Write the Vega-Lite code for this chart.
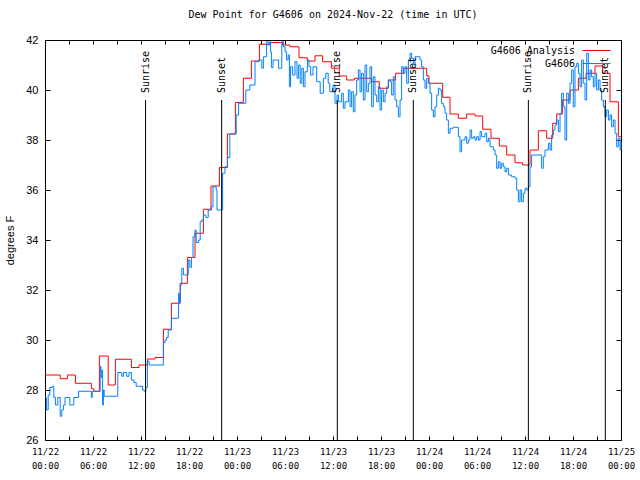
{
  "$schema": "https://vega.github.io/schema/vega-lite/v6.json",
  "width": 576,
  "height": 400,
  "autosize": {"type": "none"},
  "padding": {"left": 45, "top": 40, "right": 19, "bottom": 40},
  "background": "white",
  "title": {"text": "Dew Point for G4606 on 2024-Nov-22 (time in UTC)", "font": "DejaVu Sans Mono", "fontSize": 10, "fontWeight": "normal", "color": "black", "offset": 14, "anchor": "middle"},
  "config": {
    "view": {"stroke": null},
    "axis": {"grid": false, "domainColor": "black", "domainWidth": 1, "tickColor": "black", "tickWidth": 1, "labelColor": "black", "titleColor": "black"}
  },
  "datasets": {
    "dew": [
      {"series": "G4606 Analysis", "hour": 0, "dewpoint": 28.6},
      {"series": "G4606 Analysis", "hour": 1.9, "dewpoint": 28.45},
      {"series": "G4606 Analysis", "hour": 2.8, "dewpoint": 28.6},
      {"series": "G4606 Analysis", "hour": 3.8, "dewpoint": 28.27},
      {"series": "G4606 Analysis", "hour": 5.8, "dewpoint": 28.05},
      {"series": "G4606 Analysis", "hour": 6.1, "dewpoint": 27.95},
      {"series": "G4606 Analysis", "hour": 6.8, "dewpoint": 29.36},
      {"series": "G4606 Analysis", "hour": 7.9, "dewpoint": 28.2},
      {"series": "G4606 Analysis", "hour": 8.8, "dewpoint": 29.23},
      {"series": "G4606 Analysis", "hour": 10.8, "dewpoint": 28.9},
      {"series": "G4606 Analysis", "hour": 11.75, "dewpoint": 29.0},
      {"series": "G4606 Analysis", "hour": 12.8, "dewpoint": 29.24},
      {"series": "G4606 Analysis", "hour": 13.75, "dewpoint": 29.3},
      {"series": "G4606 Analysis", "hour": 14.8, "dewpoint": 30.43},
      {"series": "G4606 Analysis", "hour": 15.8, "dewpoint": 31.47},
      {"series": "G4606 Analysis", "hour": 16.9, "dewpoint": 32.27},
      {"series": "G4606 Analysis", "hour": 17.8, "dewpoint": 33.3},
      {"series": "G4606 Analysis", "hour": 18.75, "dewpoint": 34.27},
      {"series": "G4606 Analysis", "hour": 19.8, "dewpoint": 35.23},
      {"series": "G4606 Analysis", "hour": 20.75, "dewpoint": 36.16},
      {"series": "G4606 Analysis", "hour": 21.8, "dewpoint": 36.9},
      {"series": "G4606 Analysis", "hour": 22.8, "dewpoint": 38.24},
      {"series": "G4606 Analysis", "hour": 23.8, "dewpoint": 39.5},
      {"series": "G4606 Analysis", "hour": 24.8, "dewpoint": 40.47},
      {"series": "G4606 Analysis", "hour": 25.8, "dewpoint": 41.16},
      {"series": "G4606 Analysis", "hour": 26.8, "dewpoint": 41.83},
      {"series": "G4606 Analysis", "hour": 28.1, "dewpoint": 41.9},
      {"series": "G4606 Analysis", "hour": 29.7, "dewpoint": 41.8},
      {"series": "G4606 Analysis", "hour": 30.6, "dewpoint": 41.73},
      {"series": "G4606 Analysis", "hour": 31.75, "dewpoint": 41.29},
      {"series": "G4606 Analysis", "hour": 32.8, "dewpoint": 41.16},
      {"series": "G4606 Analysis", "hour": 33.75, "dewpoint": 41.37},
      {"series": "G4606 Analysis", "hour": 34.7, "dewpoint": 41.13},
      {"series": "G4606 Analysis", "hour": 35.8, "dewpoint": 40.87},
      {"series": "G4606 Analysis", "hour": 36.79, "dewpoint": 40.56},
      {"series": "G4606 Analysis", "hour": 37.71, "dewpoint": 40.4},
      {"series": "G4606 Analysis", "hour": 38.67, "dewpoint": 40.47},
      {"series": "G4606 Analysis", "hour": 40.83, "dewpoint": 40.33},
      {"series": "G4606 Analysis", "hour": 41.79, "dewpoint": 40.07},
      {"series": "G4606 Analysis", "hour": 42.92, "dewpoint": 40.4},
      {"series": "G4606 Analysis", "hour": 43.83, "dewpoint": 40.67},
      {"series": "G4606 Analysis", "hour": 44.79, "dewpoint": 40.87},
      {"series": "G4606 Analysis", "hour": 47.71, "dewpoint": 40.56},
      {"series": "G4606 Analysis", "hour": 48.0, "dewpoint": 40.27},
      {"series": "G4606 Analysis", "hour": 49.71, "dewpoint": 39.71},
      {"series": "G4606 Analysis", "hour": 50.63, "dewpoint": 39.04},
      {"series": "G4606 Analysis", "hour": 51.67, "dewpoint": 38.87},
      {"series": "G4606 Analysis", "hour": 52.71, "dewpoint": 39.04},
      {"series": "G4606 Analysis", "hour": 53.75, "dewpoint": 38.96},
      {"series": "G4606 Analysis", "hour": 54.71, "dewpoint": 38.43},
      {"series": "G4606 Analysis", "hour": 55.75, "dewpoint": 38.07},
      {"series": "G4606 Analysis", "hour": 56.79, "dewpoint": 37.76},
      {"series": "G4606 Analysis", "hour": 57.71, "dewpoint": 37.4},
      {"series": "G4606 Analysis", "hour": 58.75, "dewpoint": 37.09},
      {"series": "G4606 Analysis", "hour": 59.71, "dewpoint": 37.0},
      {"series": "G4606 Analysis", "hour": 60.63, "dewpoint": 37.6},
      {"series": "G4606 Analysis", "hour": 61.67, "dewpoint": 38.37},
      {"series": "G4606 Analysis", "hour": 62.71, "dewpoint": 38.07},
      {"series": "G4606 Analysis", "hour": 63.46, "dewpoint": 38.67},
      {"series": "G4606 Analysis", "hour": 63.96, "dewpoint": 39.04},
      {"series": "G4606 Analysis", "hour": 64.67, "dewpoint": 39.6},
      {"series": "G4606 Analysis", "hour": 65.63, "dewpoint": 40.0},
      {"series": "G4606 Analysis", "hour": 66.67, "dewpoint": 40.47},
      {"series": "G4606 Analysis", "hour": 67.63, "dewpoint": 40.67},
      {"series": "G4606 Analysis", "hour": 68.75, "dewpoint": 40.96},
      {"series": "G4606 Analysis", "hour": 69.71, "dewpoint": 40.67},
      {"series": "G4606 Analysis", "hour": 70.63, "dewpoint": 39.53},
      {"series": "G4606 Analysis", "hour": 71.67, "dewpoint": 38.13},
      {"series": "G4606 Analysis", "hour": 72, "dewpoint": 38.13},
      {"series": "G4606", "hour": 0.0, "dewpoint": 27.7},
      {"series": "G4606", "hour": 0.2, "dewpoint": 27.2},
      {"series": "G4606", "hour": 0.4, "dewpoint": 27.8},
      {"series": "G4606", "hour": 0.6, "dewpoint": 28.1},
      {"series": "G4606", "hour": 0.9, "dewpoint": 28.15},
      {"series": "G4606", "hour": 1.1, "dewpoint": 27.7},
      {"series": "G4606", "hour": 1.3, "dewpoint": 27.4},
      {"series": "G4606", "hour": 1.6, "dewpoint": 27.7},
      {"series": "G4606", "hour": 1.9, "dewpoint": 26.95},
      {"series": "G4606", "hour": 2.1, "dewpoint": 27.2},
      {"series": "G4606", "hour": 2.3, "dewpoint": 27.4},
      {"series": "G4606", "hour": 2.5, "dewpoint": 27.7},
      {"series": "G4606", "hour": 3.1, "dewpoint": 27.4},
      {"series": "G4606", "hour": 3.6, "dewpoint": 27.7},
      {"series": "G4606", "hour": 4.2, "dewpoint": 27.95},
      {"series": "G4606", "hour": 5.6, "dewpoint": 27.95},
      {"series": "G4606", "hour": 5.8, "dewpoint": 27.7},
      {"series": "G4606", "hour": 5.9, "dewpoint": 27.95},
      {"series": "G4606", "hour": 6.7, "dewpoint": 27.95},
      {"series": "G4606", "hour": 6.9, "dewpoint": 28.95},
      {"series": "G4606", "hour": 7.0, "dewpoint": 28.5},
      {"series": "G4606", "hour": 7.1, "dewpoint": 28.8},
      {"series": "G4606", "hour": 7.2, "dewpoint": 27.4},
      {"series": "G4606", "hour": 7.3, "dewpoint": 28.0},
      {"series": "G4606", "hour": 7.4, "dewpoint": 27.75},
      {"series": "G4606", "hour": 8.9, "dewpoint": 27.75},
      {"series": "G4606", "hour": 9.1, "dewpoint": 28.7},
      {"series": "G4606", "hour": 9.6, "dewpoint": 28.55},
      {"series": "G4606", "hour": 9.8, "dewpoint": 28.7},
      {"series": "G4606", "hour": 10.2, "dewpoint": 28.55},
      {"series": "G4606", "hour": 10.5, "dewpoint": 28.7},
      {"series": "G4606", "hour": 10.8, "dewpoint": 28.4},
      {"series": "G4606", "hour": 11.1, "dewpoint": 28.3},
      {"series": "G4606", "hour": 11.4, "dewpoint": 28.15},
      {"series": "G4606", "hour": 12.2, "dewpoint": 28.0},
      {"series": "G4606", "hour": 12.4, "dewpoint": 27.95},
      {"series": "G4606", "hour": 12.6, "dewpoint": 28.1},
      {"series": "G4606", "hour": 12.8, "dewpoint": 29.15},
      {"series": "G4606", "hour": 13.0, "dewpoint": 29.0},
      {"series": "G4606", "hour": 14.8, "dewpoint": 29.9},
      {"series": "G4606", "hour": 15.0, "dewpoint": 30.0},
      {"series": "G4606", "hour": 15.2, "dewpoint": 30.1},
      {"series": "G4606", "hour": 15.4, "dewpoint": 30.4},
      {"series": "G4606", "hour": 15.8, "dewpoint": 30.87},
      {"series": "G4606", "hour": 16.7, "dewpoint": 31.87},
      {"series": "G4606", "hour": 16.8, "dewpoint": 31.5},
      {"series": "G4606", "hour": 16.9, "dewpoint": 32.2},
      {"series": "G4606", "hour": 17.1, "dewpoint": 32.87},
      {"series": "G4606", "hour": 17.3, "dewpoint": 32.6},
      {"series": "G4606", "hour": 17.9, "dewpoint": 33.2},
      {"series": "G4606", "hour": 18.1, "dewpoint": 32.9},
      {"series": "G4606", "hour": 18.3, "dewpoint": 33.3},
      {"series": "G4606", "hour": 18.5, "dewpoint": 34.13},
      {"series": "G4606", "hour": 18.75, "dewpoint": 34.4},
      {"series": "G4606", "hour": 18.9, "dewpoint": 33.9},
      {"series": "G4606", "hour": 19.2, "dewpoint": 34.0},
      {"series": "G4606", "hour": 19.4, "dewpoint": 34.73},
      {"series": "G4606", "hour": 19.6, "dewpoint": 34.8},
      {"series": "G4606", "hour": 19.8, "dewpoint": 35.0},
      {"series": "G4606", "hour": 20.1, "dewpoint": 34.9},
      {"series": "G4606", "hour": 20.4, "dewpoint": 35.2},
      {"series": "G4606", "hour": 20.8, "dewpoint": 35.33},
      {"series": "G4606", "hour": 21.0, "dewpoint": 36.13},
      {"series": "G4606", "hour": 21.4, "dewpoint": 36.0},
      {"series": "G4606", "hour": 21.5, "dewpoint": 35.2},
      {"series": "G4606", "hour": 22.1, "dewpoint": 35.2},
      {"series": "G4606", "hour": 22.2, "dewpoint": 36.67},
      {"series": "G4606", "hour": 22.5, "dewpoint": 36.93},
      {"series": "G4606", "hour": 22.8, "dewpoint": 37.3},
      {"series": "G4606", "hour": 23.1, "dewpoint": 38.24},
      {"series": "G4606", "hour": 23.9, "dewpoint": 39.0},
      {"series": "G4606", "hour": 24.2, "dewpoint": 39.47},
      {"series": "G4606", "hour": 25.0, "dewpoint": 39.47},
      {"series": "G4606", "hour": 25.1, "dewpoint": 40.0},
      {"series": "G4606", "hour": 25.6, "dewpoint": 40.2},
      {"series": "G4606", "hour": 26.0, "dewpoint": 40.2},
      {"series": "G4606", "hour": 26.25, "dewpoint": 41.13},
      {"series": "G4606", "hour": 26.7, "dewpoint": 41.2},
      {"series": "G4606", "hour": 27.1, "dewpoint": 40.87},
      {"series": "G4606", "hour": 27.3, "dewpoint": 41.33},
      {"series": "G4606", "hour": 27.7, "dewpoint": 41.93},
      {"series": "G4606", "hour": 27.9, "dewpoint": 41.8},
      {"series": "G4606", "hour": 28.1, "dewpoint": 41.93},
      {"series": "G4606", "hour": 28.2, "dewpoint": 41.53},
      {"series": "G4606", "hour": 28.3, "dewpoint": 40.9},
      {"series": "G4606", "hour": 28.5, "dewpoint": 41.2},
      {"series": "G4606", "hour": 28.96, "dewpoint": 41.2},
      {"series": "G4606", "hour": 29.2, "dewpoint": 40.87},
      {"series": "G4606", "hour": 29.4, "dewpoint": 40.87},
      {"series": "G4606", "hour": 29.6, "dewpoint": 41.93},
      {"series": "G4606", "hour": 29.8, "dewpoint": 41.73},
      {"series": "G4606", "hour": 30.0, "dewpoint": 41.53},
      {"series": "G4606", "hour": 30.2, "dewpoint": 41.2},
      {"series": "G4606", "hour": 30.4, "dewpoint": 41.4},
      {"series": "G4606", "hour": 30.55, "dewpoint": 40.13},
      {"series": "G4606", "hour": 30.7, "dewpoint": 40.93},
      {"series": "G4606", "hour": 30.96, "dewpoint": 40.6},
      {"series": "G4606", "hour": 31.25, "dewpoint": 41.13},
      {"series": "G4606", "hour": 31.5, "dewpoint": 40.47},
      {"series": "G4606", "hour": 31.7, "dewpoint": 41.0},
      {"series": "G4606", "hour": 31.9, "dewpoint": 40.27},
      {"series": "G4606", "hour": 32.1, "dewpoint": 40.87},
      {"series": "G4606", "hour": 32.3, "dewpoint": 40.13},
      {"series": "G4606", "hour": 32.5, "dewpoint": 40.73},
      {"series": "G4606", "hour": 32.8, "dewpoint": 41.2},
      {"series": "G4606", "hour": 33.0, "dewpoint": 40.93},
      {"series": "G4606", "hour": 33.2, "dewpoint": 40.6},
      {"series": "G4606", "hour": 33.5, "dewpoint": 40.93},
      {"series": "G4606", "hour": 33.96, "dewpoint": 40.33},
      {"series": "G4606", "hour": 34.4, "dewpoint": 39.87},
      {"series": "G4606", "hour": 34.8, "dewpoint": 40.47},
      {"series": "G4606", "hour": 35.1, "dewpoint": 40.67},
      {"series": "G4606", "hour": 35.4, "dewpoint": 40.27},
      {"series": "G4606", "hour": 35.6, "dewpoint": 39.93},
      {"series": "G4606", "hour": 36.0, "dewpoint": 40.2},
      {"series": "G4606", "hour": 36.25, "dewpoint": 39.47},
      {"series": "G4606", "hour": 36.5, "dewpoint": 39.8},
      {"series": "G4606", "hour": 36.67, "dewpoint": 39.53},
      {"series": "G4606", "hour": 37.08, "dewpoint": 39.87},
      {"series": "G4606", "hour": 37.29, "dewpoint": 39.27},
      {"series": "G4606", "hour": 37.5, "dewpoint": 39.53},
      {"series": "G4606", "hour": 37.92, "dewpoint": 40.0},
      {"series": "G4606", "hour": 38.13, "dewpoint": 39.33},
      {"series": "G4606", "hour": 38.33, "dewpoint": 39.93},
      {"series": "G4606", "hour": 38.54, "dewpoint": 39.13},
      {"series": "G4606", "hour": 38.75, "dewpoint": 39.8},
      {"series": "G4606", "hour": 38.96, "dewpoint": 40.4},
      {"series": "G4606", "hour": 39.17, "dewpoint": 40.8},
      {"series": "G4606", "hour": 39.38, "dewpoint": 39.93},
      {"series": "G4606", "hour": 39.58, "dewpoint": 40.67},
      {"series": "G4606", "hour": 39.79, "dewpoint": 39.6},
      {"series": "G4606", "hour": 40.0, "dewpoint": 41.0},
      {"series": "G4606", "hour": 40.21, "dewpoint": 39.93},
      {"series": "G4606", "hour": 40.42, "dewpoint": 40.27},
      {"series": "G4606", "hour": 40.63, "dewpoint": 40.93},
      {"series": "G4606", "hour": 40.83, "dewpoint": 39.33},
      {"series": "G4606", "hour": 41.04, "dewpoint": 40.53},
      {"series": "G4606", "hour": 41.25, "dewpoint": 39.8},
      {"series": "G4606", "hour": 41.46, "dewpoint": 39.53},
      {"series": "G4606", "hour": 41.67, "dewpoint": 40.13},
      {"series": "G4606", "hour": 41.88, "dewpoint": 39.2},
      {"series": "G4606", "hour": 42.08, "dewpoint": 40.0},
      {"series": "G4606", "hour": 42.29, "dewpoint": 39.53},
      {"series": "G4606", "hour": 42.5, "dewpoint": 39.87},
      {"series": "G4606", "hour": 42.71, "dewpoint": 40.13},
      {"series": "G4606", "hour": 42.92, "dewpoint": 40.4},
      {"series": "G4606", "hour": 43.13, "dewpoint": 40.33},
      {"series": "G4606", "hour": 43.33, "dewpoint": 39.8},
      {"series": "G4606", "hour": 43.54, "dewpoint": 40.53},
      {"series": "G4606", "hour": 43.75, "dewpoint": 39.6},
      {"series": "G4606", "hour": 43.96, "dewpoint": 39.33},
      {"series": "G4606", "hour": 44.17, "dewpoint": 38.93},
      {"series": "G4606", "hour": 44.38, "dewpoint": 39.6},
      {"series": "G4606", "hour": 44.58, "dewpoint": 40.93},
      {"series": "G4606", "hour": 44.79, "dewpoint": 40.67},
      {"series": "G4606", "hour": 45.0, "dewpoint": 40.93},
      {"series": "G4606", "hour": 45.21, "dewpoint": 40.27},
      {"series": "G4606", "hour": 45.42, "dewpoint": 41.2},
      {"series": "G4606", "hour": 45.63, "dewpoint": 41.47},
      {"series": "G4606", "hour": 45.83, "dewpoint": 41.27},
      {"series": "G4606", "hour": 46.04, "dewpoint": 41.0},
      {"series": "G4606", "hour": 46.25, "dewpoint": 41.33},
      {"series": "G4606", "hour": 46.67, "dewpoint": 41.33},
      {"series": "G4606", "hour": 46.88, "dewpoint": 41.2},
      {"series": "G4606", "hour": 47.08, "dewpoint": 40.93},
      {"series": "G4606", "hour": 47.29, "dewpoint": 40.4},
      {"series": "G4606", "hour": 47.5, "dewpoint": 40.07},
      {"series": "G4606", "hour": 47.71, "dewpoint": 40.47},
      {"series": "G4606", "hour": 47.92, "dewpoint": 40.27},
      {"series": "G4606", "hour": 48.13, "dewpoint": 39.87},
      {"series": "G4606", "hour": 48.33, "dewpoint": 39.2},
      {"series": "G4606", "hour": 48.54, "dewpoint": 38.93},
      {"series": "G4606", "hour": 48.75, "dewpoint": 39.33},
      {"series": "G4606", "hour": 48.96, "dewpoint": 39.8},
      {"series": "G4606", "hour": 49.17, "dewpoint": 40.07},
      {"series": "G4606", "hour": 49.38, "dewpoint": 40.0},
      {"series": "G4606", "hour": 49.58, "dewpoint": 39.47},
      {"series": "G4606", "hour": 49.79, "dewpoint": 39.33},
      {"series": "G4606", "hour": 50.0, "dewpoint": 39.07},
      {"series": "G4606", "hour": 50.21, "dewpoint": 38.8},
      {"series": "G4606", "hour": 50.42, "dewpoint": 38.27},
      {"series": "G4606", "hour": 50.63, "dewpoint": 38.47},
      {"series": "G4606", "hour": 51.04, "dewpoint": 38.51},
      {"series": "G4606", "hour": 51.67, "dewpoint": 38.13},
      {"series": "G4606", "hour": 51.88, "dewpoint": 37.53},
      {"series": "G4606", "hour": 52.08, "dewpoint": 38.0},
      {"series": "G4606", "hour": 52.5, "dewpoint": 38.13},
      {"series": "G4606", "hour": 52.71, "dewpoint": 37.87},
      {"series": "G4606", "hour": 52.92, "dewpoint": 38.0},
      {"series": "G4606", "hour": 53.13, "dewpoint": 38.4},
      {"series": "G4606", "hour": 53.33, "dewpoint": 38.07},
      {"series": "G4606", "hour": 53.54, "dewpoint": 38.13},
      {"series": "G4606", "hour": 53.75, "dewpoint": 38.0},
      {"series": "G4606", "hour": 53.96, "dewpoint": 38.13},
      {"series": "G4606", "hour": 54.17, "dewpoint": 38.0},
      {"series": "G4606", "hour": 54.38, "dewpoint": 38.33},
      {"series": "G4606", "hour": 54.58, "dewpoint": 38.13},
      {"series": "G4606", "hour": 55.0, "dewpoint": 38.27},
      {"series": "G4606", "hour": 55.21, "dewpoint": 37.93},
      {"series": "G4606", "hour": 55.42, "dewpoint": 38.07},
      {"series": "G4606", "hour": 55.63, "dewpoint": 37.73},
      {"series": "G4606", "hour": 56.04, "dewpoint": 37.6},
      {"series": "G4606", "hour": 56.25, "dewpoint": 37.4},
      {"series": "G4606", "hour": 56.46, "dewpoint": 36.87},
      {"series": "G4606", "hour": 56.67, "dewpoint": 37.13},
      {"series": "G4606", "hour": 56.88, "dewpoint": 36.87},
      {"series": "G4606", "hour": 57.08, "dewpoint": 37.07},
      {"series": "G4606", "hour": 57.29, "dewpoint": 36.93},
      {"series": "G4606", "hour": 57.5, "dewpoint": 36.73},
      {"series": "G4606", "hour": 57.71, "dewpoint": 36.87},
      {"series": "G4606", "hour": 57.92, "dewpoint": 36.6},
      {"series": "G4606", "hour": 58.33, "dewpoint": 36.53},
      {"series": "G4606", "hour": 58.75, "dewpoint": 36.47},
      {"series": "G4606", "hour": 58.96, "dewpoint": 36.0},
      {"series": "G4606", "hour": 59.17, "dewpoint": 35.53},
      {"series": "G4606", "hour": 59.38, "dewpoint": 36.0},
      {"series": "G4606", "hour": 59.58, "dewpoint": 35.53},
      {"series": "G4606", "hour": 59.79, "dewpoint": 35.87},
      {"series": "G4606", "hour": 60.0, "dewpoint": 36.07},
      {"series": "G4606", "hour": 60.21, "dewpoint": 36.0},
      {"series": "G4606", "hour": 60.42, "dewpoint": 36.13},
      {"series": "G4606", "hour": 60.63, "dewpoint": 36.93},
      {"series": "G4606", "hour": 60.83, "dewpoint": 37.4},
      {"series": "G4606", "hour": 61.88, "dewpoint": 37.4},
      {"series": "G4606", "hour": 62.08, "dewpoint": 36.87},
      {"series": "G4606", "hour": 62.29, "dewpoint": 37.33},
      {"series": "G4606", "hour": 62.5, "dewpoint": 37.6},
      {"series": "G4606", "hour": 62.92, "dewpoint": 37.87},
      {"series": "G4606", "hour": 63.13, "dewpoint": 37.6},
      {"series": "G4606", "hour": 63.33, "dewpoint": 38.2},
      {"series": "G4606", "hour": 63.54, "dewpoint": 38.4},
      {"series": "G4606", "hour": 63.75, "dewpoint": 38.6},
      {"series": "G4606", "hour": 63.96, "dewpoint": 38.8},
      {"series": "G4606", "hour": 64.17, "dewpoint": 38.33},
      {"series": "G4606", "hour": 64.38, "dewpoint": 39.07},
      {"series": "G4606", "hour": 64.58, "dewpoint": 39.87},
      {"series": "G4606", "hour": 64.79, "dewpoint": 39.33},
      {"series": "G4606", "hour": 65.0, "dewpoint": 38.0},
      {"series": "G4606", "hour": 65.21, "dewpoint": 39.87},
      {"series": "G4606", "hour": 65.42, "dewpoint": 39.47},
      {"series": "G4606", "hour": 65.63, "dewpoint": 40.27},
      {"series": "G4606", "hour": 65.83, "dewpoint": 40.8},
      {"series": "G4606", "hour": 66.04, "dewpoint": 39.33},
      {"series": "G4606", "hour": 66.25, "dewpoint": 40.93},
      {"series": "G4606", "hour": 66.46, "dewpoint": 41.07},
      {"series": "G4606", "hour": 66.67, "dewpoint": 40.67},
      {"series": "G4606", "hour": 66.88, "dewpoint": 40.13},
      {"series": "G4606", "hour": 67.08, "dewpoint": 41.2},
      {"series": "G4606", "hour": 67.29, "dewpoint": 40.27},
      {"series": "G4606", "hour": 67.5, "dewpoint": 39.6},
      {"series": "G4606", "hour": 67.71, "dewpoint": 41.47},
      {"series": "G4606", "hour": 67.92, "dewpoint": 40.4},
      {"series": "G4606", "hour": 68.13, "dewpoint": 40.8},
      {"series": "G4606", "hour": 68.33, "dewpoint": 40.53},
      {"series": "G4606", "hour": 68.54, "dewpoint": 40.13},
      {"series": "G4606", "hour": 68.75, "dewpoint": 40.67},
      {"series": "G4606", "hour": 68.96, "dewpoint": 40.0},
      {"series": "G4606", "hour": 69.17, "dewpoint": 40.4},
      {"series": "G4606", "hour": 69.38, "dewpoint": 40.0},
      {"series": "G4606", "hour": 69.58, "dewpoint": 39.6},
      {"series": "G4606", "hour": 69.79, "dewpoint": 39.33},
      {"series": "G4606", "hour": 70.0, "dewpoint": 38.93},
      {"series": "G4606", "hour": 70.21, "dewpoint": 39.2},
      {"series": "G4606", "hour": 70.42, "dewpoint": 38.8},
      {"series": "G4606", "hour": 70.63, "dewpoint": 39.0},
      {"series": "G4606", "hour": 70.83, "dewpoint": 38.53},
      {"series": "G4606", "hour": 71.04, "dewpoint": 38.8},
      {"series": "G4606", "hour": 71.25, "dewpoint": 38.27},
      {"series": "G4606", "hour": 71.46, "dewpoint": 37.73},
      {"series": "G4606", "hour": 71.67, "dewpoint": 38.07},
      {"series": "G4606", "hour": 71.88, "dewpoint": 37.6},
      {"series": "G4606", "hour": 72.0, "dewpoint": 37.9}
    ],
    "sun": [
      {"event": "Sunrise", "hour": 12.57},
      {"event": "Sunset", "hour": 22.08},
      {"event": "Sunrise", "hour": 36.54},
      {"event": "Sunset", "hour": 46.04},
      {"event": "Sunrise", "hour": 60.42},
      {"event": "Sunset", "hour": 70.04}
    ]
  },
  "layer": [
    {
      "data": {"name": "dew"},
      "mark": {"type": "line", "interpolate": "step-after", "strokeWidth": 1},
      "encoding": {
        "x": {"field": "hour", "type": "quantitative", "scale": {"domain": [0, 72], "nice": false, "zero": false},
              "axis": {"orient": "bottom", "title": null, "values": [0,3,6,9,12,15,18,21,24,27,30,33,36,39,42,45,48,51,54,57,60,63,66,69,72], "tickSize": -4, "labelPadding": 11, "labelFont": "DejaVu Sans Mono", "labelFontSize": 9, "labelLineHeight": 14, "labelBaseline": "top", "labelFlush": false, "labelOverlap": false,
                       "labelExpr": "datum.value % 6 == 0 ? ['11/' + (22 + floor(datum.value / 24)), ((datum.value % 24) < 10 ? '0' : '') + (datum.value % 24) + ':00'] : ''"}},
        "y": {"field": "dewpoint", "type": "quantitative", "scale": {"domain": [26, 42], "nice": false, "zero": false},
              "axis": {"orient": "left", "title": "degrees F", "values": [26,28,30,32,34,36,38,40,42], "tickSize": -5, "labelPadding": 12, "labelFont": "Liberation Sans", "labelFontSize": 11, "labelFlush": false, "titleFont": "Liberation Sans", "titleFontSize": 11, "titleFontWeight": "normal", "titleX": -35, "titleY": 200, "titleAngle": -90, "titleAlign": "center", "titleBaseline": "middle"}},
        "color": {"field": "series", "type": "nominal",
                  "scale": {"domain": ["G4606 Analysis", "G4606"], "range": ["#ff0000", "#0080ff"]},
                  "legend": {"orient": "none", "legendX": 544, "legendY": 3, "title": null, "padding": 0, "symbolType": "M-2,0H2", "symbolSize": 196, "symbolStrokeWidth": 1, "symbolFillColor": "transparent", "labelAlign": "right", "labelOffset": -29, "labelFont": "DejaVu Sans Mono", "labelFontSize": 10, "labelColor": "black", "rowPadding": 0}}
      }
    },
    {
      "data": {"name": "sun"},
      "mark": {"type": "rule", "color": "black", "strokeWidth": 1},
      "encoding": {
        "x": {"field": "hour", "type": "quantitative", "axis": {"orient": "top", "title": null, "labels": false, "values": [0,3,6,9,12,15,18,21,24,27,30,33,36,39,42,45,48,51,54,57,60,63,66,69,72], "tickSize": -4}},
        "y": {"datum": 39.6, "type": "quantitative", "axis": {"orient": "right", "title": null, "labels": false, "values": [26,28,30,32,34,36,38,40,42], "tickSize": -5}},
        "y2": {"datum": 26}
      }
    },
    {
      "data": {"name": "sun"},
      "mark": {"type": "text", "angle": 270, "align": "left", "baseline": "middle", "font": "DejaVu Sans Mono", "fontSize": 10, "color": "black"},
      "encoding": {
        "x": {"field": "hour", "type": "quantitative", "axis": null},
        "y": {"datum": 39.88, "type": "quantitative", "axis": null},
        "text": {"field": "event"}
      }
    }
  ],
  "resolve": {"axis": {"x": "independent", "y": "independent"}}
}
